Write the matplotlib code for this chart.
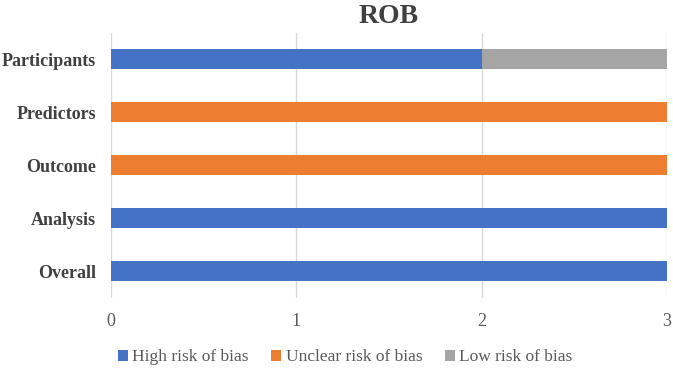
import matplotlib.pyplot as plt
import numpy as np

plt.rcParams['font.family'] = ['Liberation Serif', 'DejaVu Serif']

domains = ['Participants', 'Predictors', 'Outcome', 'Analysis', 'Overall']
high = [2, 0, 0, 3, 3]
unclear = [0, 3, 3, 0, 0]
low = [1, 0, 0, 0, 0]
series = ['High risk of bias', 'Unclear risk of bias', 'Low risk of bias']
colors = ['#4472C4', '#ED7D31', '#A5A5A5']

fig = plt.figure(figsize=(6.73, 3.70), dpi=100)
ax = fig.add_axes([0.165, 0.195, 0.826, 0.716])

y = np.arange(len(domains))
left = np.zeros(len(domains))
for vals, name, c in zip([high, unclear, low], series, colors):
    ax.barh(y, vals, left=left, height=0.38, color=c, label=name, zorder=3)
    left += np.array(vals)

ax.set_xlim(0, 3)
ax.set_ylim(len(domains) - 0.5, -0.5)
ax.set_yticks(y)
ax.set_yticklabels(domains, fontsize=13, fontweight='bold', color='#404040')
ax.set_xticks([0, 1, 2, 3])
ax.tick_params(axis='x', labelsize=13, labelcolor='#595959', length=0, pad=11)
ax.tick_params(axis='y', length=0, pad=11)
ax.grid(axis='x', color='#D9D9D9', linewidth=1, zorder=0)
for s in ax.spines.values():
    s.set_visible(False)

ax.set_title('ROB', fontsize=20, fontweight='bold', color='#404040', pad=7)
fig.legend(loc='lower center', bbox_to_anchor=(0.513, -0.03), ncol=3, frameon=False,
           fontsize=12.5, handlelength=0.58, handleheight=0.58, handletextpad=0.25,
           columnspacing=1.3, labelcolor='#595959')

fig.savefig('out.png', dpi=100)
